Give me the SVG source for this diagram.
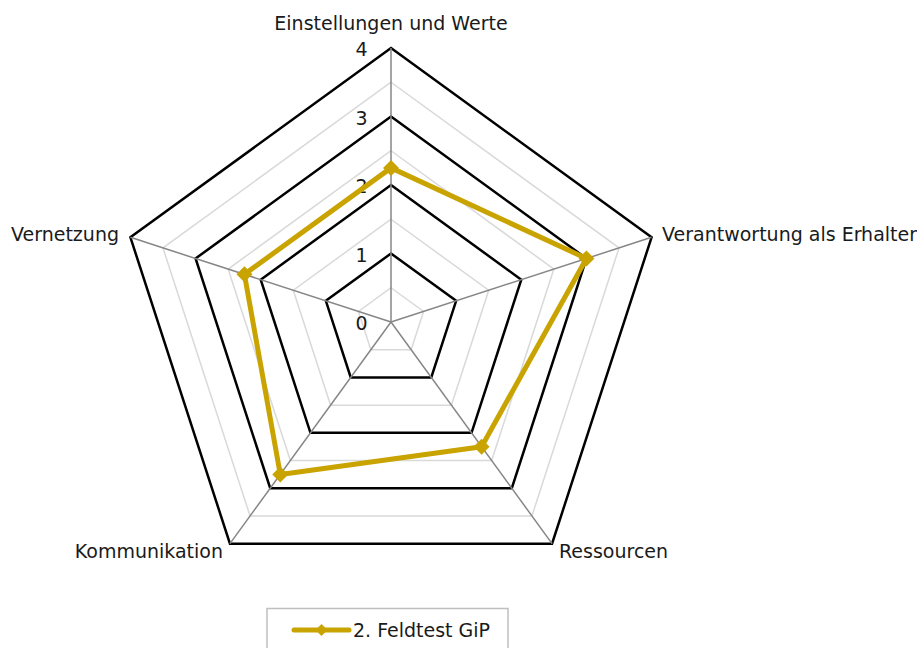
<svg xmlns="http://www.w3.org/2000/svg" width="917" height="648" viewBox="0 0 917 648">
<style>
text{font-family:"DejaVu Sans","Liberation Sans",sans-serif;font-size:19px;fill:#1a1a1a}
.minor{fill:none;stroke:#d9d9d9;stroke-width:1.5}
.major{fill:none;stroke:#000;stroke-width:2.5;stroke-linejoin:miter}
.axis{stroke:#868686;stroke-width:1.5}
.series{fill:none;stroke:#C9A300;stroke-width:5;stroke-linejoin:round}
.mk{fill:#C9A300}
</style>
<defs>
<path id="dia" d="M0,-8 L8,0 L0,8 L-8,0 Z"/>
</defs>
<rect width="917" height="648" fill="#fff"/>
<g id="grid">
<polygon class="minor" points="391,287.75 423.57,311.42 411.13,349.71 370.87,349.71 358.43,311.42"/>
<polygon class="minor" points="391,219.25 488.72,290.25 451.40,405.13 330.60,405.13 293.28,290.25"/>
<polygon class="minor" points="391,150.75 553.87,269.08 491.66,460.54 290.34,460.54 228.13,269.08"/>
<polygon class="minor" points="391,82.25 619.02,247.91 531.92,515.96 250.08,515.96 162.98,247.91"/>
<polygon class="major" points="391,253.5 456.15,300.83 431.26,377.42 350.74,377.42 325.85,300.83"/>
<polygon class="major" points="391,185 521.29,279.66 471.53,432.83 310.47,432.83 260.71,279.66"/>
<polygon class="major" points="391,116.5 586.44,258.50 511.79,488.25 270.21,488.25 195.56,258.50"/>
<polygon class="major" points="391,48 651.59,237.33 552.05,543.67 229.95,543.67 130.41,237.33"/>
</g>
<g id="connectors">
<line class="axis" x1="391" y1="322" x2="391" y2="48"/>
<line class="axis" x1="391" y1="322" x2="651.59" y2="237.33"/>
<line class="axis" x1="391" y1="322" x2="552.05" y2="543.67"/>
<line class="axis" x1="391" y1="322" x2="229.95" y2="543.67"/>
<line class="axis" x1="391" y1="322" x2="130.41" y2="237.33"/>
</g>
<g id="ticks">
<text x="367.5" y="330" text-anchor="end">0</text>
<text x="367.5" y="261.5" text-anchor="end">1</text>
<text x="367.5" y="193" text-anchor="end">2</text>
<text x="367.5" y="124.5" text-anchor="end">3</text>
<text x="367.5" y="56" text-anchor="end">4</text>
</g>
<g id="labels">
<text x="391" y="30" text-anchor="middle">Einstellungen und Werte</text>
<text x="662" y="240.5">Verantwortung als Erhalter</text>
<text x="559" y="558">Ressourcen</text>
<text x="223" y="558" text-anchor="end">Kommunikation</text>
<text x="119" y="240.5" text-anchor="end">Vernetzung</text>
</g>
<g id="series">
<polygon class="series" points="391,167.88 586.44,258.50 481.59,446.69 280.28,474.40 244.42,274.37"/>
<use href="#dia" class="mk" x="391" y="167.88"/>
<use href="#dia" class="mk" x="586.44" y="258.50"/>
<use href="#dia" class="mk" x="481.59" y="446.69"/>
<use href="#dia" class="mk" x="280.28" y="474.40"/>
<use href="#dia" class="mk" x="244.42" y="274.37"/>
</g>
<g id="legend">
<rect x="267" y="608.5" width="241" height="45" fill="#fff" stroke="#bfbfbf" stroke-width="1.5"/>
<line x1="294" y1="630" x2="349" y2="630" stroke="#C9A300" stroke-width="5" stroke-linecap="round"/>
<use href="#dia" class="mk" x="321.5" y="630" transform="translate(321.5,630) scale(0.75) translate(-321.5,-630)"/>
<text x="353" y="637">2. Feldtest GiP</text>
</g>
</svg>
